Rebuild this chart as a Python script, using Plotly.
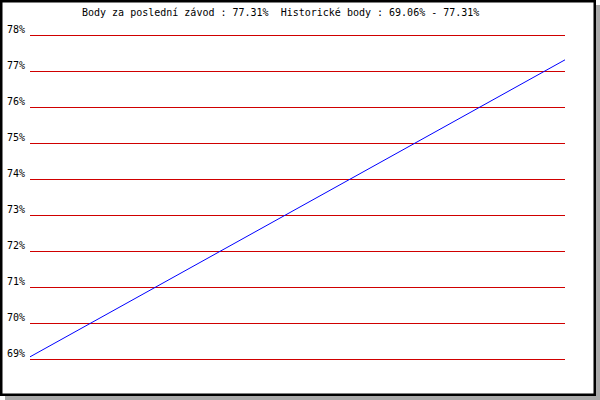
import plotly.graph_objects as go

x_vals = [0, 1]
y_vals = [69.06, 77.31]
tick_vals = [69, 70, 71, 72, 73, 74, 75, 76, 77, 78]
tick_text = [f"{v}%" for v in tick_vals]
title_text = "Body za poslední závod : 77.31%  Historické body : 69.06% - 77.31%"

W, H = 600, 400
L, R, T, B = 30, 565, 33, 361
UNIT = 36.0
y_top = 78 + (35 - T) / UNIT
y_bot = 69 - (B - 359) / UNIT
pw, ph = R - L, B - T

def px(x):
    return (x - L) / pw

def py(y):
    return (B - y) / ph

FONT = "DejaVu Sans Mono"

fig = go.Figure()
fig.add_trace(go.Scatter(x=x_vals, y=y_vals, mode="lines",
                         line=dict(color="#0000ff", width=1), hoverinfo="skip"))

shapes = []
def rect(x0, y0, x1, y1, color):
    shapes.append(dict(type="rect", xref="paper", yref="paper",
                       x0=px(x0), x1=px(x1), y0=py(y1), y1=py(y0),
                       fillcolor=color, line=dict(width=0, color=color),
                       layer="above"))

# shadow
rect(596, 5, 600, 400, "#a9a9a9")
rect(5, 396, 600, 400, "#a9a9a9")
# black frame
rect(0, 0, 596, 2.5, "#000000")
rect(0, 0, 2.5, 396, "#000000")
rect(593.5, 0, 596, 396, "#000000")
rect(0, 393.5, 596, 396, "#000000")

fig.update_layout(
    width=W, height=H,
    margin=dict(l=L, r=W - R, t=T, b=H - B, pad=0, autoexpand=False),
    paper_bgcolor="white", plot_bgcolor="white",
    showlegend=False,
    shapes=shapes,
    font=dict(family=FONT, size=10, color="black"),
    xaxis=dict(range=[0, 1], visible=False, showgrid=False, zeroline=False,
               automargin=False),
    yaxis=dict(range=[y_bot, y_top], tickmode="array", tickvals=tick_vals, ticktext=tick_text,
               showgrid=True, gridcolor="#d00000", gridwidth=1, zeroline=False,
               showline=False, ticks="", ticklabelshift=-6, ticklabelstandoff=4,
               automargin=False,
               tickfont=dict(family=FONT, size=10, color="black")),
    annotations=[dict(text=title_text, xref="paper", yref="paper",
                      x=px(280), y=py(13), xanchor="center", yanchor="middle",
                      showarrow=False, font=dict(family=FONT, size=10, color="black"))],
)

fig.write_html("out.html", config={"displayModeBar": False},
               post_script="document.body.style.margin='0';document.body.style.padding='0';")
